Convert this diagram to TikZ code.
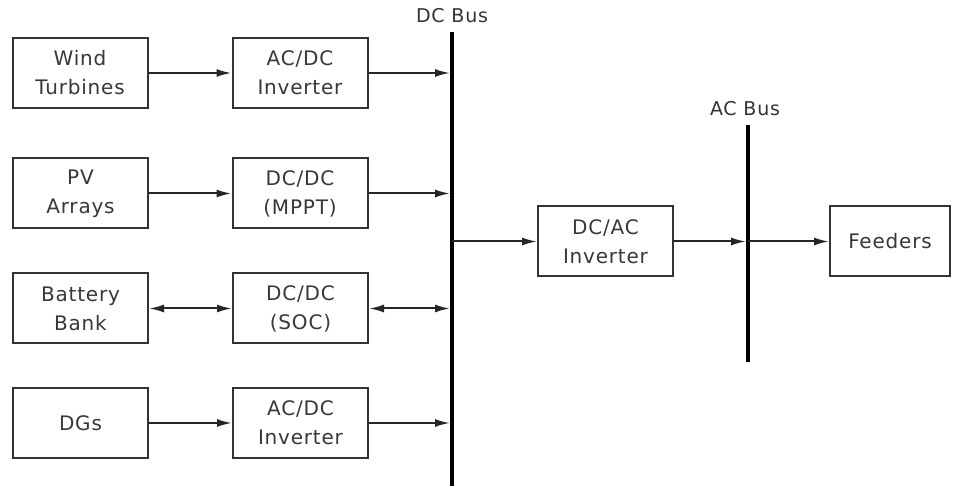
\documentclass[tikz,border=0pt]{standalone}
\usepackage{fontspec}
\setmainfont[LetterSpace=4]{DejaVu Sans}
\usetikzlibrary{arrows.meta}
\begin{document}
\begin{tikzpicture}[x=1pt,y=-1pt,
  blk/.style={draw=black!80, line width=2pt, minimum width=135pt, minimum height=70pt, inner sep=0pt, align=center, font=\fontsize{20}{29}\selectfont, text=black!78},
  conn/.style={draw=black!85, line width=2pt, -{Latex[length=15pt,width=8pt]}},
  bconn/.style={draw=black!85, line width=2pt, {Latex[length=15pt,width=8pt]}-{Latex[length=15pt,width=8pt]}},
  bus/.style={draw=black, line width=4pt},
  lbl/.style={font=\fontsize{19}{22}\selectfont, text=black!80}]
\useasboundingbox (0,0) rectangle (954,486);
\fill[white] (0,0) rectangle (954,486);
% left column
\node[blk] (wt) at (80,73) {Wind\\Turbines};
\node[blk] (pv) at (80.5,193.5) {PV\\Arrays};
\node[blk] (bb) at (80.5,308.5) {Battery\\Bank};
\node[blk] (dg) at (80.5,423) {DGs};
% converters
\node[blk] (c1) at (300,73) {AC/DC\\Inverter};
\node[blk] (c2) at (300,193.5) {DC/DC\\(MPPT)};
\node[blk] (c3) at (300.5,308.5) {DC/DC\\(SOC)};
\node[blk] (c4) at (300.5,423) {AC/DC\\Inverter};
% buses
\coordinate (dct) at (452,32);
\coordinate (dcb) at (452,486);
\draw[bus] (dct) -- (dcb);
\node[lbl] (dclbl) at (452,16) {DC Bus};
\coordinate (act) at (748,125);
\coordinate (acb) at (748,362);
\draw[bus] (act) -- (acb);
\node[lbl] (aclbl) at (745,109) {AC Bus};
% right
\node[blk] (inv) at (605.5,241.5) {DC/AC\\Inverter};
\node[blk, minimum width=120pt] (fd) at (890,241.5) {Feeders};
% bus tap points
\coordinate (b1) at (450,73);
\coordinate (b2) at (450,193.5);
\coordinate (b3) at (450,308.5);
\coordinate (b4) at (450,423);
\coordinate (bo) at (452,241.5);
\coordinate (ai) at (746,241.5);
\coordinate (ao) at (748,241.5);
% connectors
\draw[conn] (wt) -- (c1);
\draw[conn] (pv) -- (c2);
\draw[bconn] (bb) -- (c3);
\draw[conn] (dg) -- (c4);
\draw[conn] (c1) -- (b1);
\draw[conn] (c2) -- (b2);
\draw[bconn] (c3) -- (b3);
\draw[conn] (c4) -- (b4);
\draw[conn] (bo) -- (inv);
\draw[conn] (inv) -- (ai);
\draw[conn] (ao) -- (fd);
\end{tikzpicture}
\end{document}
